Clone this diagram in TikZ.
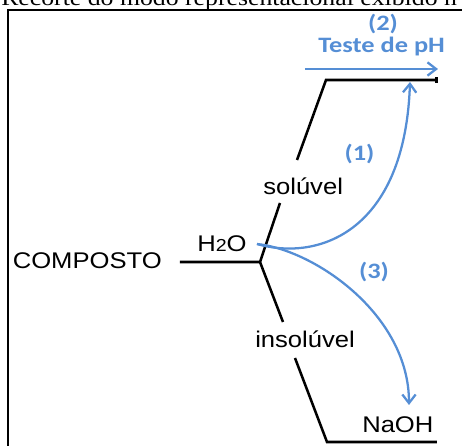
\documentclass[tikz,border=0pt]{standalone}
\usepackage{fontspec}
\usetikzlibrary{arrows.meta}
\newfontfamily\arialx[FakeStretch=1.13]{Liberation Sans}
\newfontfamily\calx[FakeStretch=1.2]{Carlito}
\newfontfamily\timesx[FakeStretch=1.15]{Liberation Serif}
\definecolor{myblue}{RGB}{85,142,213}
\tikzset{
  blk/.style={line width=1.9pt, black},
  frame/.style={line width=2pt, black},
  bluearr/.style={line width=1.7pt, myblue, -{Straight Barb[length=6.5pt,width=10pt]}},
  lbl/.style={inner sep=0pt, anchor=base west, font=\arialx\fontsize{17}{20}\selectfont},
  bluelbl/.style={inner sep=0pt, text=myblue, font=\calx\bfseries\fontsize{16.5}{19}\selectfont},
}
\begin{document}
\begin{tikzpicture}[x=0.75pt,y=-0.75pt]
\useasboundingbox (0,0) rectangle (462,446);
% cut-off caption
\node[inner sep=0pt, anchor=base west, font=\timesx\fontsize{16.8}{20}\selectfont] (cap) at (1,6) {Recorte do modo representacional exibido n};
% frame
\coordinate (f0) at (8,447);
\coordinate (f1) at (8,10);
\coordinate (f2) at (470,10);
\draw[frame] (f0) -- (f1) -- (f2);
% labels
\node[lbl] (comp) at (12.5,268) {COMPOSTO};
\node[lbl] (h2o) at (197,252) {H{\fontsize{13}{15}\selectfont 2}O};
\node[lbl] (sol) at (263,195) {solúvel};
\node[lbl] (insol) at (255,348) {insolúvel};
\node[lbl] (naoh) at (362,432) {NaOH};
\node[bluelbl, anchor=base west] (teste) at (318,52) {Teste de pH};
\node[bluelbl] (n2) at (383,24.5) {(2)};
\node[bluelbl] (n1) at (359.5,154) {(1)};
\node[bluelbl] (n3) at (374,272) {(3)};
% black branches
\coordinate (c0) at (180,262);
\coordinate (J) at (260,262);
\coordinate (u1) at (280,203);
\coordinate (u2) at (297,160);
\coordinate (U) at (326,80);
\coordinate (UE) at (438,80);
\coordinate (d1) at (283,322);
\coordinate (d2) at (295,358);
\coordinate (D) at (327,442);
\coordinate (DE) at (437,442);
\draw[blk] (c0) -- (J) -- (u1);
\draw[blk, -{Bar[width=4pt]}] (u2) -- (U) -- (UE);
\draw[blk] (J) -- (d1);
\draw[blk] (d2) -- (D) -- (DE);
% blue arrows
\coordinate (S) at (257,244);
\coordinate (e1) at (410,82);
\coordinate (e3) at (409,405);
\coordinate (a0) at (305,69);
\coordinate (a1) at (438,69);
\draw[bluearr] (S) .. controls (320,262) and (405,230) .. (e1);
\draw[bluearr] (S) .. controls (315,250) and (409,315) .. (e3);
\draw[bluearr] (a0) -- (a1);
\end{tikzpicture}
\end{document}
